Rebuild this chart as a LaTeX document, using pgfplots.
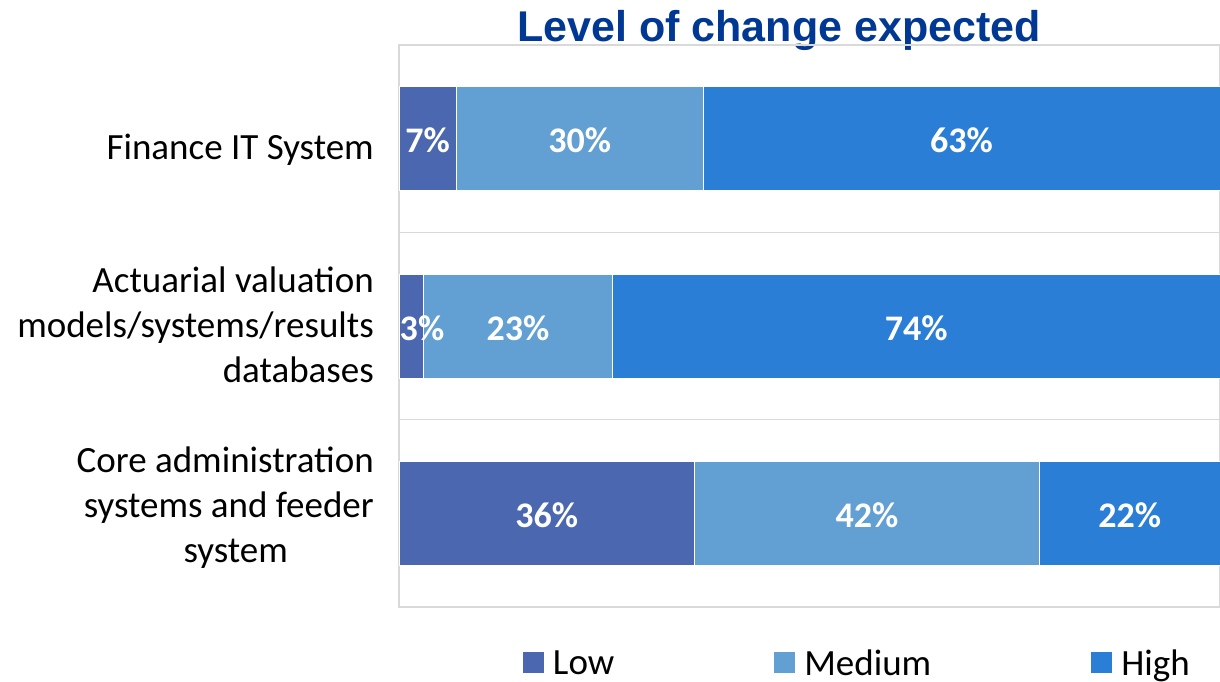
\documentclass[border=0pt]{standalone}
\usepackage{pgfplots}
\pgfplotsset{compat=1.18}
\usepackage{fontspec}
\setmainfont{Carlito}
\newfontfamily\titlefont{Liberation Sans}
\definecolor{cLow}{HTML}{4A67AF}
\definecolor{cMed}{HTML}{629FD2}
\definecolor{cHigh}{HTML}{2A7ED6}
\definecolor{cTitle}{HTML}{003893}
\definecolor{cGrid}{HTML}{D9D9D9}
\begin{document}
\begin{tikzpicture}
\useasboundingbox (0,0) rectangle (1220pt,681pt);
\node[font=\titlefont\bfseries\fontsize{43}{50}\selectfont, text=cTitle, anchor=base, inner sep=0pt] at (779pt,639pt) {Level of change expected};
\begin{axis}[
  at={(399pt,74pt)}, anchor=south west,
  scale only axis, width=821pt, height=562pt,
  xbar stacked, bar width=104pt,
  xmin=0, xmax=100, ymin=-0.5, ymax=2.5, y dir=reverse,
  ytick={0.059,0.995,1.968},
  yticklabels={{Finance IT System},{Actuarial valuation\\models/systems/results\\databases},{Core administration\\systems and feeder\\system\hspace*{86pt}}},
  yticklabel style={align=right, font=\fontsize{37}{45}\selectfont, inner sep=0pt, xshift=-25pt},
  major tick length=0pt,
  xtick=\empty,
  extra y ticks={0.5,1.5}, extra y tick labels={},
  extra y tick style={grid=major},
  grid style={cGrid, line width=1.5pt},
  axis line style={cGrid, line width=1.5pt},
  legend image code/.code={\fill[#1, draw=none] (0pt,-10.5pt) rectangle (21pt,10.5pt);},
  legend style={at={(0.151,-0.0996)}, anchor=west, draw=none, inner sep=0pt, outer sep=0pt,
    legend columns=3, font=\fontsize{37}{45}\selectfont,
    nodes={inner sep=0pt},
    /tikz/every odd column/.append style={column sep=9pt},
    /tikz/every even column/.append style={column sep=160pt}},
]
\addplot[fill=cLow, draw=white, line width=0.5pt] coordinates {(7,0) (3,1) (36,2)};
\addlegendentry{Low}
\addplot[fill=cMed, draw=white, line width=0.5pt] coordinates {(30,0) (23,1) (42,2)};
\addlegendentry{Medium}
\addplot[fill=cHigh, draw=white, line width=0.5pt] coordinates {(63,0) (74,1) (22,2)};
\addlegendentry{High}
\end{axis}
\begin{axis}[
  at={(399pt,74pt)}, anchor=south west,
  scale only axis, width=821pt, height=562pt,
  xmin=0, xmax=100, ymin=-0.5, ymax=2.5, y dir=reverse,
  axis lines=none, clip=false,
  nodes near coords, point meta=explicit symbolic,
  every node near coord/.append style={anchor=center, inner sep=0pt, text=white, font=\bfseries\fontsize{36}{40}\selectfont},
]
\addplot[draw=none, mark=none] coordinates {(3.5,0.01) [7\%] (22,0.01) [30\%] (68.5,0.01) [63\%]};
\addplot[draw=none, mark=none] coordinates {(2.8,1.01) [3\%] (14.5,1.01) [23\%] (63,1.01) [74\%]};
\addplot[draw=none, mark=none] coordinates {(18,2.01) [36\%] (57,2.01) [42\%] (89,2.01) [22\%]};
\end{axis}
\end{tikzpicture}
\end{document}
